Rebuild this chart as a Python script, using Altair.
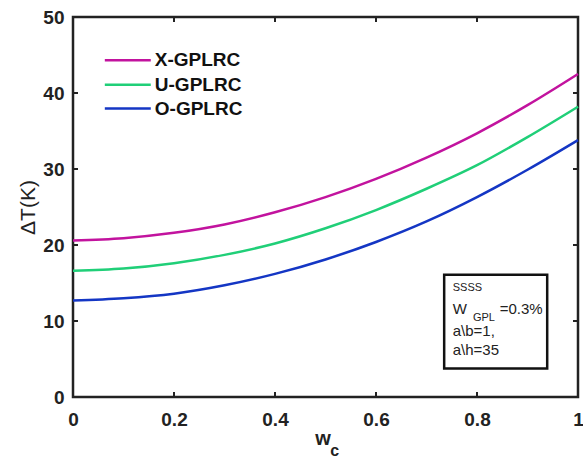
import altair as alt
import pandas as pd

# ---- data ----
w_values = [0.0, 0.1, 0.2, 0.3, 0.4, 0.5, 0.6, 0.7, 0.8, 0.9, 1.0]
x_gplrc = [20.6, 20.9, 21.6, 22.7, 24.3, 26.3, 28.7, 31.5, 34.7, 38.4, 42.5]
u_gplrc = [16.6, 16.9, 17.6, 18.7, 20.2, 22.2, 24.6, 27.4, 30.5, 34.2, 38.2]
o_gplrc = [12.7, 13.0, 13.6, 14.7, 16.2, 18.1, 20.4, 23.1, 26.3, 29.9, 33.8]
series_names = ["X-GPLRC", "U-GPLRC", "O-GPLRC"]
series_colors = ["#C2139E", "#20CF78", "#1436C4"]
x_ticks = [0, 0.2, 0.4, 0.6, 0.8, 1]
y_ticks = [0, 10, 20, 30, 40, 50]
inner_x_ticks = [0.2, 0.4, 0.6, 0.8]
inner_y_ticks = [10, 20, 30, 40]
legend_y = [44.3, 41.1, 37.95]
box_labels = ["SSSS", "W", "GPL", "=0.3%", "a\\b=1,", "a\\h=35"]
box_label_x = [0.752, 0.752, 0.792, 0.845, 0.752, 0.752]
box_label_y = [14.4, 11.6, 10.4, 11.6, 8.75, 6.25]
box_label_size = [11, 15, 11, 15, 15, 15]

FONT = "Liberation Sans"

rows = []
for name, vals in zip(series_names, [x_gplrc, u_gplrc, o_gplrc]):
    for w, t in zip(w_values, vals):
        rows.append({"w": w, "T": t, "series": name})
df = pd.DataFrame(rows)

xscale = alt.Scale(domain=[0, 1], nice=False, zero=False)
yscale = alt.Scale(domain=[0, 50], nice=False)
color = alt.Color("series:N", scale=alt.Scale(domain=series_names, range=series_colors), legend=None)

xaxis = alt.Axis(values=x_ticks, labelExpr="'' + datum.value", ticks=False, domain=False,
                 grid=False, labelFont=FONT, labelFontSize=19, labelFontWeight="bold",
                 labelColor="#222", labelPadding=13, labelFlush=False, title=None)
yaxis = alt.Axis(values=y_ticks, ticks=False, domain=False, grid=False,
                 labelFont=FONT, labelFontSize=19, labelFontWeight="bold",
                 labelColor="#222", labelPadding=9, title="\u0394T(K)",
                 titleFont=FONT, titleFontSize=21, titleFontWeight="normal",
                 titleColor="#222", titlePadding=4)


def X(field):
    return alt.X(field, scale=xscale, axis=xaxis)


def Y(field):
    return alt.Y(field, scale=yscale, axis=yaxis)


lines = alt.Chart(df).mark_line(strokeWidth=2.5, interpolate="monotone").encode(
    x=X("w:Q"), y=Y("T:Q"), color=color)

# inward ticks (MATLAB style box)
xt = pd.DataFrame({"w": inner_x_ticks})
yt = pd.DataFrame({"T": inner_y_ticks})
tick_style = dict(color="#222", strokeWidth=2)
bottom_ticks = alt.Chart(xt).mark_rule(**tick_style).encode(
    x=X("w:Q"), y=alt.datum(0), y2=alt.datum(0.66))
top_ticks = alt.Chart(xt).mark_rule(**tick_style).encode(
    x=X("w:Q"), y=alt.datum(50), y2=alt.datum(49.34))
left_ticks = alt.Chart(yt).mark_rule(**tick_style).encode(
    y=Y("T:Q"), x=alt.datum(0), x2=alt.datum(0.0099))
right_ticks = alt.Chart(yt).mark_rule(**tick_style).encode(
    y=Y("T:Q"), x=alt.datum(1), x2=alt.datum(0.9901))

# custom legend
leg = pd.DataFrame({"series": series_names, "T": legend_y})
leg_lines = alt.Chart(leg).mark_rule(strokeWidth=2.5).encode(
    x=alt.datum(0.063), x2=alt.datum(0.154), y=Y("T:Q"), color=color)
leg_text = alt.Chart(leg).mark_text(align="left", baseline="middle", font=FONT, fontSize=19,
                                    fontWeight="bold", color="#111").encode(
    x=alt.datum(0.162), y=Y("T:Q"), text="series:N")

# annotation box
box = alt.Chart(pd.DataFrame({"a": [0]})).mark_rect(fill="white", stroke="#111", strokeWidth=2.5).encode(
    x=alt.datum(0.735), x2=alt.datum(0.939), y=alt.datum(16.1), y2=alt.datum(3.75))
bl = pd.DataFrame({"label": box_labels, "w": box_label_x, "T": box_label_y, "fs": box_label_size})
box_text = alt.Chart(bl).mark_text(align="left", baseline="middle", font=FONT, color="#222").encode(
    x=X("w:Q"), y=Y("T:Q"), text="label:N", size=alt.Size("fs:Q", scale=None))

# x axis title w_c
xt_df = pd.DataFrame({"label": ["w", "c"], "w": [0.495, 0.518], "T": [-6.25, -7.7], "fs": [20, 16]})
x_title = alt.Chart(xt_df).mark_text(align="center", baseline="alphabetic", font=FONT,
                                     fontWeight="bold", color="#222").encode(
    x=X("w:Q"), y=Y("T:Q"), text="label:N", size=alt.Size("fs:Q", scale=None))

chart = alt.layer(
    lines, bottom_ticks, top_ticks, left_ticks, right_ticks,
    leg_lines, leg_text, box, box_text, x_title
).properties(
    width=505, height=380,
    autosize=alt.AutoSizeParams(type="none"),
    padding={"left": 73, "top": 17, "right": 5, "bottom": 67},
    background="white",
).configure_view(stroke="#222", strokeWidth=2.5)

chart.save("out.html", embed_options={"renderer": "svg", "actions": False})
